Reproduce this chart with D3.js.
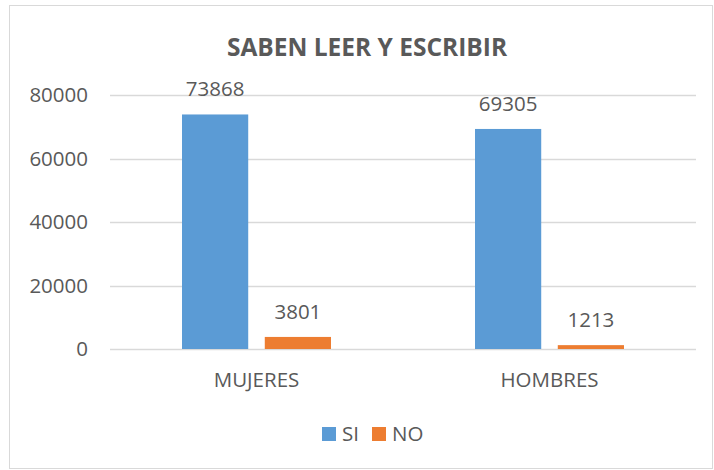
<!DOCTYPE html>
<html>
<head>
<meta charset="utf-8">
<script src="https://cdn.jsdelivr.net/npm/d3@7"></script>
<style>
  body { margin: 0; background: #fff; }
  text { font-family: "Open Sans", Arial, sans-serif; fill: #595959; }
</style>
</head>
<body>
<div id="chart"></div>
<script>
var categories = ["MUJERES", "HOMBRES"];
var seriesNames = ["SI", "NO"];
var siValues = [73868, 69305];
var noValues = [3801, 1213];
var yTicks = [0, 20000, 40000, 60000, 80000];
var colors = ["#5b9bd5", "#ed7d31"];

var width = 714, height = 470;

var svg = d3.select("#chart").append("svg")
    .attr("width", width)
    .attr("height", height);

// chart border
svg.append("rect")
    .attr("x", 9.5).attr("y", 5.5)
    .attr("width", 703).attr("height", 463)
    .attr("fill", "#fff")
    .attr("stroke", "#d9d9d9");

var x0 = d3.scaleBand().domain(categories).range([110, 696]);
var x1 = d3.scaleBand().domain(seriesNames).range([0, 149]).paddingInner(0.2);
var y = d3.scaleLinear().domain([0, 80000]).range([349, 95]);

// gridlines
svg.append("g").selectAll("line")
    .data(yTicks)
    .enter().append("line")
    .attr("x1", 110).attr("x2", 696)
    .attr("y1", function(d) { return Math.round(y(d)) + 0.5; })
    .attr("y2", function(d) { return Math.round(y(d)) + 0.5; })
    .attr("stroke", "#d9d9d9")
    .attr("stroke-width", 1.5);

// y axis labels
var yAxis = d3.axisLeft(y).tickValues(yTicks).tickSize(0).tickPadding(0)
    .tickFormat(d3.format("d"));
var ya = svg.append("g").attr("transform", "translate(88,0)").call(yAxis);
ya.select(".domain").remove();
ya.selectAll("text").attr("font-size", 20.5).style("fill", "#595959")
    .style("font-family", '"Open Sans", Arial, sans-serif');

var rows = categories.map(function(c, i) {
  return { cat: c, vals: [siValues[i], noValues[i]] };
});

var groups = svg.selectAll(".grp")
    .data(rows)
    .enter().append("g")
    .attr("transform", function(d) {
      return "translate(" + (x0(d.cat) + (x0.bandwidth() - 149) / 2) + ",0)";
    });

groups.selectAll("rect")
    .data(function(d) { return d.vals.map(function(v, j) { return { s: seriesNames[j], v: v, j: j }; }); })
    .enter().append("rect")
    .attr("x", function(d) { return x1(d.s); })
    .attr("width", x1.bandwidth())
    .attr("y", function(d) { return y(d.v); })
    .attr("height", function(d) { return y(0) - y(d.v); })
    .attr("fill", function(d) { return colors[d.j]; });

groups.selectAll(".lbl")
    .data(function(d) { return d.vals.map(function(v, j) { return { s: seriesNames[j], v: v }; }); })
    .enter().append("text")
    .attr("class", "lbl")
    .attr("x", function(d) { return x1(d.s) + x1.bandwidth() / 2; })
    .attr("y", function(d) { return y(d.v) - 18; })
    .attr("text-anchor", "middle")
    .attr("font-size", 20.5)
    .text(function(d) { return d.v; });

// category labels
svg.selectAll(".cat")
    .data(categories)
    .enter().append("text")
    .attr("x", function(d) { return x0(d) + x0.bandwidth() / 2; })
    .attr("y", 387)
    .attr("text-anchor", "middle")
    .attr("font-size", 20.5)
    .text(function(d) { return d; });

// title
svg.append("text")
    .attr("x", 367).attr("y", 56)
    .attr("text-anchor", "middle")
    .attr("font-size", 24.5)
    .attr("font-weight", "bold")
    .text("SABEN LEER Y ESCRIBIR");

// legend
var leg = svg.append("g").selectAll("g")
    .data(seriesNames)
    .enter().append("g")
    .attr("transform", function(d, i) { return "translate(" + (322 + i * 50) + ",427)"; });
leg.append("rect").attr("width", 14).attr("height", 14)
    .attr("fill", function(d, i) { return colors[i]; });
leg.append("text").attr("x", 20).attr("y", 14)
    .attr("font-size", 20.5)
    .text(function(d) { return d; });
</script>
</body>
</html>
